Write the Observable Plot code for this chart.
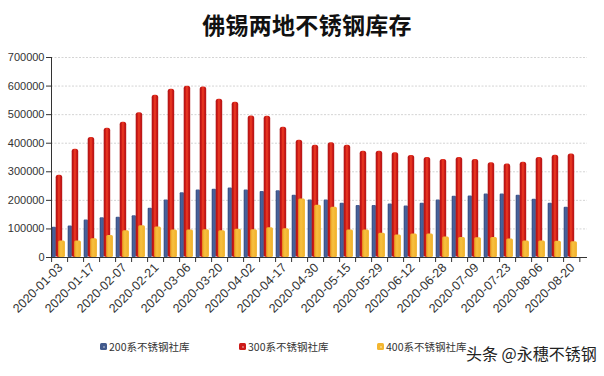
<!DOCTYPE html>
<html>
<head>
<meta charset="utf-8">
<script src="https://cdn.jsdelivr.net/npm/d3@7"></script>
<script src="https://cdn.jsdelivr.net/npm/@observablehq/plot@0.6"></script>
<style>
  html, body { margin: 0; padding: 0; background: #fff; }
  #wrap { position: relative; width: 604px; height: 376px; overflow: hidden; background: #fff; font-family: "Liberation Sans", Arial, sans-serif; }
  #title { position: absolute; top: 7px; left: 0; width: 614px; text-align: center; font-family: "Noto Sans CJK SC", sans-serif; font-weight: 700; font-size: 23px; color: #111; letter-spacing: 0.3px; }
  #chart { position: absolute; top: 45px; left: 0; }
  .leg { position: absolute; top: 339px; font-family: "Noto Sans CJK SC", sans-serif; font-size: 10.5px; color: #333; white-space: nowrap; display: flex; align-items: center; }
  .sw { width: 7px; height: 7px; border-radius: 1.5px; margin-right: 2px; position: relative; }
  .sw::after { content: ""; position: absolute; left: 2.5px; top: 2.5px; width: 2px; height: 2px; border-radius: 1px; background: rgba(255,255,255,0.45); }
  #wm { position: absolute; left: 466px; top: 341px; font-family: "Noto Sans CJK SC", sans-serif; font-size: 16px; color: #222; white-space: nowrap; text-shadow: 0 0 2px #fff, 0 0 2px #fff; }
</style>
</head>
<body>
<div id="wrap">
  <div id="title"></div>
  <div id="chart"></div>
  <div id="legend"></div>
  <div id="wm"></div>
</div>
<script>
const title = "佛锡两地不锈钢库存";
const watermark = "头条 @永穗不锈钢";
const dates = [
  "2020-01-03","2020-01-10","2020-01-17","2020-01-23","2020-02-07","2020-02-14","2020-02-21","2020-02-28",
  "2020-03-06","2020-03-13","2020-03-20","2020-03-27","2020-04-02","2020-04-10","2020-04-17","2020-04-24",
  "2020-04-30","2020-05-08","2020-05-15","2020-05-22","2020-05-29","2020-06-05","2020-06-12","2020-06-19",
  "2020-06-28","2020-07-03","2020-07-09","2020-07-16","2020-07-23","2020-07-30","2020-08-06","2020-08-13",
  "2020-08-20"
];
const seriesNames = ["200系不锈钢社库", "300系不锈钢社库", "400系不锈钢社库"];
const s200 = [106000,110000,131000,139000,141000,146000,172000,201000,227000,236000,239000,243000,236000,231000,234000,218000,
  201000,201000,190000,182000,182000,187000,180000,190000,201000,214000,215000,222000,222000,218000,204000,190000,176000];
const s300 = [288000,379000,420000,452000,473000,507000,568000,589000,599000,597000,554000,543000,495000,494000,456000,410000,
  393000,402000,393000,372000,372000,367000,357000,350000,343000,350000,343000,332000,327000,333000,350000,358000,362000];
const s400 = [58000,58000,66000,77000,94000,111000,107000,96000,96000,97000,94000,99000,97000,104000,101000,205000,
  183000,176000,96000,96000,85000,79000,82000,82000,72000,70000,69000,70000,65000,58000,58000,57000,55000];
const yTicks = [0,100000,200000,300000,400000,500000,600000,700000];
const labelDates = dates.filter((d, i) => i % 2 === 0);

const colors = ["#425a8c", "#cc1a18", "#f3b630"];

const rows = (vals) => dates.map((d, i) => ({date: d, value: vals[i]}));

document.getElementById("title").textContent = title;
document.getElementById("wm").textContent = watermark;

const defs = () => {
  const svgNS = "http://www.w3.org/2000/svg";
  const g = document.createElementNS(svgNS, "defs");
  g.innerHTML = `
    <linearGradient id="gBlue" x1="0" x2="1" y1="0" y2="0">
      <stop offset="0" stop-color="#33497a"/><stop offset="0.5" stop-color="#4b65a0"/><stop offset="1" stop-color="#3a5285"/>
    </linearGradient>
    <linearGradient id="gRed" x1="0" x2="1" y1="0" y2="0">
      <stop offset="0" stop-color="#a81414"/><stop offset="0.3" stop-color="#d21c18"/>
      <stop offset="0.46" stop-color="#e83a22"/><stop offset="0.54" stop-color="#e83a22"/>
      <stop offset="0.7" stop-color="#d21c18"/><stop offset="1" stop-color="#b01616"/>
    </linearGradient>
    <linearGradient id="gYellow" x1="0" x2="1" y1="0" y2="0">
      <stop offset="0" stop-color="#e8a020"/><stop offset="0.4" stop-color="#f8c040"/><stop offset="1" stop-color="#f0b028"/>
    </linearGradient>`;
  return g;
};

const step = (604 - 51 - 17) / 33;
const bw = step * 0.85;

const chart = Plot.plot({
  width: 604,
  height: 290,
  marginTop: 12,
  marginBottom: 78,
  marginLeft: 51,
  marginRight: 17,
  style: {fontFamily: "'Liberation Sans', Arial, sans-serif", fontSize: "11px", color: "#333", background: "transparent"},
  x: {domain: dates, paddingInner: 0.15, paddingOuter: 0.075, align: 0},
  y: {domain: [0, 700000]},
  marks: [
    defs,
    Plot.gridY(yTicks, {stroke: "#d4d4d4", strokeOpacity: 1, strokeDasharray: "2,1.5"}),
    Plot.barY(rows(s200), {x: "date", y: "value", fill: "url(#gBlue)", insetLeft: 0.7, insetRight: bw - 4.7, rx: 1}),
    Plot.barY(rows(s300), {x: "date", y: "value", fill: "url(#gRed)", insetLeft: 4.7, insetRight: bw - 11, rx: 2.5}),
    Plot.barY(rows(s400), {x: "date", y: "value", fill: "url(#gYellow)", insetLeft: 7.2, insetRight: 0.1, rx: 1.5}),
    Plot.ruleY([0], {stroke: "#333"}),
    Plot.frame({anchor: "left", stroke: "#333"}),
    Plot.axisY(yTicks, {tickSize: 5, tickPadding: 2, tickFormat: d3.format("d"), label: null, stroke: "#333", fill: "#333"}),
    Plot.axisX(dates, {tickSize: 5, tickFormat: () => "", dx: -bw / 2, label: null, stroke: "#333"}),
    Plot.axisX([dates[dates.length - 1]], {tickSize: 5, tickFormat: () => "", dx: step - bw / 2, label: null, stroke: "#333"}),
    Plot.axisX(labelDates, {tickSize: 0, tickRotate: -45, tickPadding: 8, dx: 2, label: null, fill: "#333", fontSize: 12.5, textAnchor: "end"})
  ]
});
document.getElementById("chart").appendChild(chart);

const legend = document.getElementById("legend");
const legX = [100, 239, 377];
seriesNames.forEach((name, i) => {
  const item = document.createElement("div");
  item.className = "leg";
  item.style.left = legX[i] + "px";
  const sw = document.createElement("span");
  sw.className = "sw";
  sw.style.background = colors[i];
  item.appendChild(sw);
  const t = document.createElement("span");
  t.textContent = name;
  item.appendChild(t);
  legend.appendChild(item);
});
</script>
</body>
</html>
